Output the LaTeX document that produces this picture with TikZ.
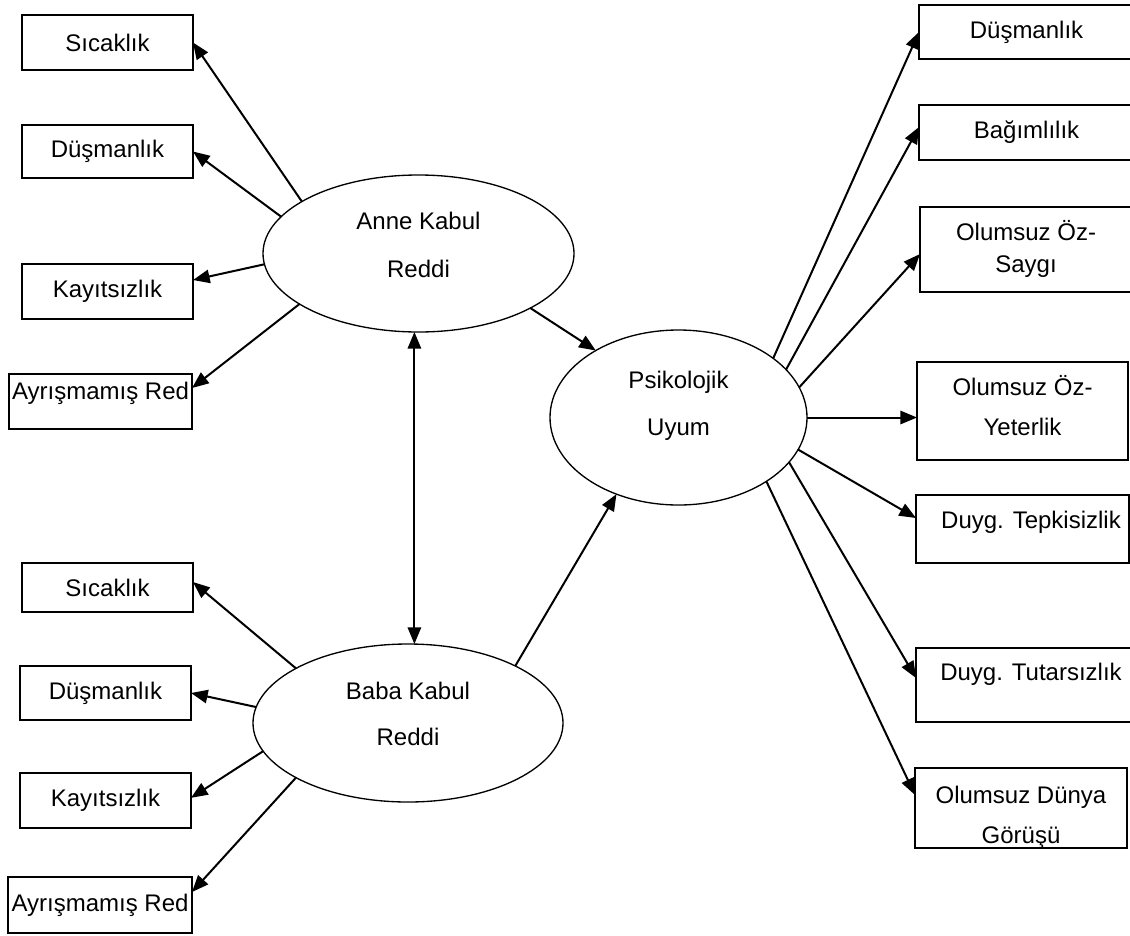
\documentclass[tikz,border=0pt]{standalone}
\usepackage{fontspec}
\setmainfont{Liberation Sans}
\usetikzlibrary{shapes.geometric,arrows.meta}
\newcommand\bodyfs{\fontsize{18pt}{21pt}\selectfont}
\begin{document}
\begin{tikzpicture}[x=0.75pt,y=-0.75pt,
  sz/.style 2 args={minimum width=#1*0.75pt, minimum height=#2*0.75pt},
  box/.style={draw, line width=1.1pt, rectangle, inner sep=0pt, outer sep=0pt, align=center, font=\bodyfs},
  ell/.style={draw, ellipse, line width=1pt, inner sep=0pt, outer sep=0pt, align=center},
  lsk/.style={font=\fontsize{18pt}{#1}\selectfont},
  arr/.style={-{Triangle[length=12.5pt,width=10pt]}, line width=1.5pt},
  dbl/.style={{Triangle[length=12.5pt,width=10pt]}-{Triangle[length=12.5pt,width=10pt]}, line width=1.5pt}]
\clip (0,0) rectangle (1130,935);
\fill[white] (0,0) rectangle (1130,935);

% latent variables
\node[ell, sz={311}{157}, lsk=36pt, text height=35.25pt, text depth=0pt] (anne) at (418.5,253.5) {Anne Kabul\\Reddi};
\node[ell, sz={310}{158}, lsk=34.5pt, text height=33pt, text depth=0pt] (baba) at (408,723) {Baba Kabul\\Reddi};
\node[ell, sz={257}{175}, lsk=35.25pt, text height=26.25pt, text depth=0pt] (psik) at (678.5,417.5) {Psikolojik\\Uyum};

% left boxes (Anne)
\node[box, sz={171}{55}] (aS) at (107.5,42.5) {Sıcaklık};
\node[box, sz={171}{53}] (aD) at (107.5,151.5) {Düşmanlık};
\node[box, sz={171}{55}] (aK) at (107.5,291.5) {Kayıtsızlık};
\node[box, sz={183}{55}, text height=0pt, text depth=3.1pt] (aA) at (100.5,401.5) {Ayrışmamış Red};
% left boxes (Baba)
\node[box, sz={171}{49}] (bS) at (107.5,587.5) {Sıcaklık};
\node[box, sz={171}{54}] (bD) at (105.5,693) {Düşmanlık};
\node[box, sz={171}{55}] (bK) at (105.5,800.5) {Kayıtsızlık};
\node[box, sz={184}{56}] (bA) at (100,905) {Ayrışmamış Red};

% right boxes
\node[box, sz={215}{54}] (rD) at (1026.5,32) {Düşmanlık};
\node[box, sz={215}{55}] (rB) at (1026.5,132.5) {Bağımlılık};
\node[box, sz={212}{85}, lsk=24pt, text height=33.75pt, text depth=0pt] (rS) at (1026,249.5) {Olumsuz Öz-\\Saygı};
\node[box, sz={211}{98}, lsk=30pt, text height=36pt, text depth=0pt] (rY) at (1022.5,411) {Olumsuz Öz-\\Yeterlik};
\node[box, sz={213}{68}, text height=0pt, text depth=0.8pt] (rT) at (1022.5,529) {\hspace*{12.75pt}Duyg. Tepkisizlik};
\node[box, sz={230}{74}, text height=0pt, text depth=6.1pt] (rU) at (1031,685) {Duyg. Tutarsızlık};
\node[box, sz={212}{80}, lsk=30pt, text height=52.5pt, text depth=0pt] (rW) at (1021,808) {Olumsuz Dünya\\Görüşü};

% Anne indicators
\draw[arr] (anne.156.1) -- (aS.east);
\draw[arr] (anne.165.6) -- (aD.east);
\draw[arr] (anne.184.3) -- ([yshift=8.6pt]aK.east);
\draw[arr] (anne.203.3) -- ([yshift=10.1pt]aA.east);
% Baba indicators
\draw[arr] (baba.154.2) -- ([yshift=4.1pt]bS.east);
\draw[arr] (baba.174.5) -- (bD.east);
\draw[arr] (baba.191.7) -- ([yshift=2pt]bK.east);
\draw[arr] (baba.206.4) -- ([yshift=9.75pt]bA.east);
% structural paths
\draw[arr] (anne.334) -- (psik.141.3);
\draw[arr] (baba.28.2) -- (psik.231.4);
\draw[dbl] (anne.267.4) -- (anne.267.4 |- baba.north);
% Psikolojik Uyum indicators
\draw[arr] (psik.32.5) -- (rD.west);
\draw[arr] (psik.24.5) -- ([yshift=4.1pt]rB.west);
\draw[arr] (psik.14.1) -- ([yshift=-3.4pt]rS.west);
\draw[arr] (psik.east) -- (psik.east -| rY.west);
\draw[arr] (psik.345.9) -- ([yshift=8.25pt]rT.west);
\draw[arr] (psik.338.6) -- ([yshift=5.25pt]rU.west);
\draw[arr] (psik.324.8) -- ([yshift=9.75pt]rW.west);
\end{tikzpicture}
\end{document}
